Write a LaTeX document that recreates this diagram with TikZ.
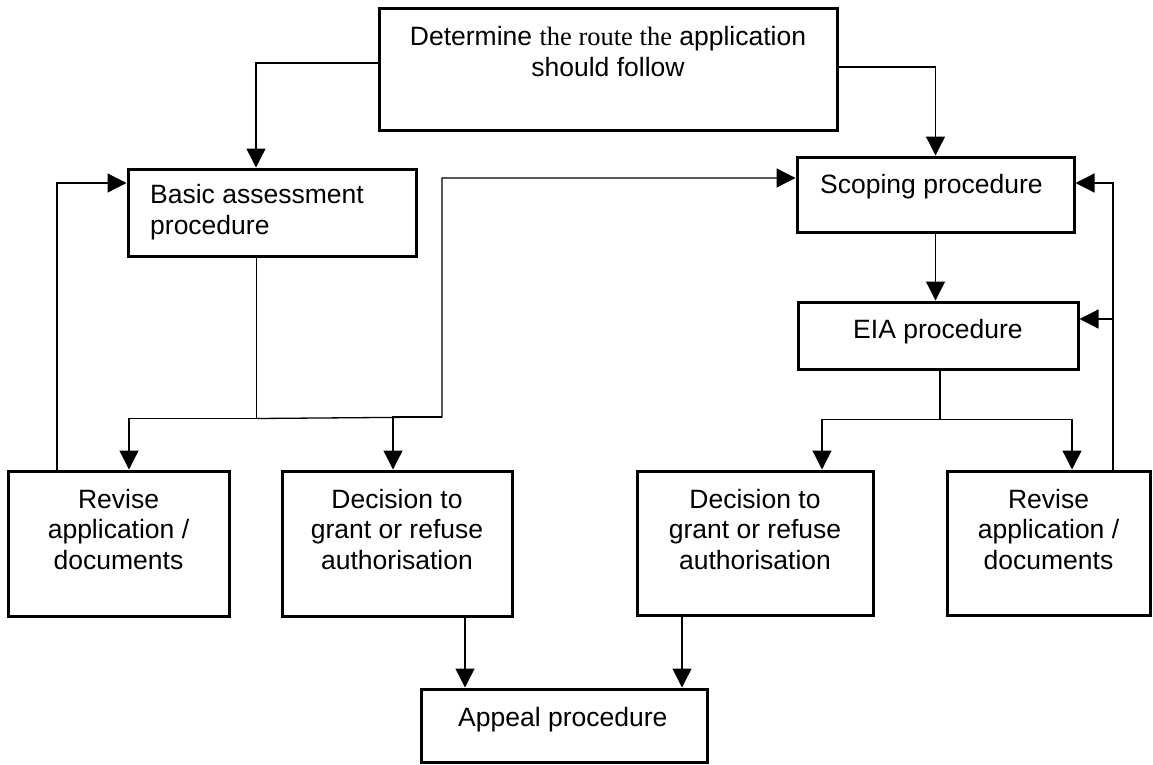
\documentclass[tikz,border=0pt]{standalone}
\usepackage{fontspec}
\setmainfont{Liberation Sans}
\newfontfamily\timesfont{Liberation Serif}
\usetikzlibrary{arrows.meta,fit}
\begin{document}
\begin{tikzpicture}[x=1pt,y=-1pt,
  box/.style={draw, line width=3pt, inner sep=0pt},
  conn/.style={line width=1.3pt, -{Triangle[length=19pt,width=19pt]}},
  plain/.style={line width=1.3pt},
  txt/.style={font=\fontsize{26.5}{30.5}\selectfont, inner sep=0pt}]
\useasboundingbox (0,0) rectangle (1153,764);
% boxes
\node[box, fit={(379,8) (837,130)}] (top) {};
\node[box, fit={(128,169) (416,256)}] (basic) {};
\node[box, fit={(797,157) (1074,232)}] (scoping) {};
\node[box, fit={(798,302) (1078,369)}] (eia) {};
\node[box, fit={(8,471) (229,616)}] (revL) {};
\node[box, fit={(282,471) (512,616)}] (decL) {};
\node[box, fit={(637,471) (873,615)}] (decR) {};
\node[box, fit={(947,471) (1150,615)}] (revR) {};
\node[box, fit={(421,689) (707,762)}] (appeal) {};
% texts (base anchor = baseline of the last line)
\node[txt, anchor=base, align=center] (ttop) at (608,76) {Determine {\timesfont the route the} application\\should follow};
\node[txt, anchor=base west, align=left] (tbasic) at (150,234) {Basic assessment\\procedure};
\node[txt, anchor=base west] (tscoping) at (820,193) {Scoping procedure};
\node[txt, anchor=base west] (teia) at (853,338) {EIA procedure};
\node[txt, anchor=base, align=center] (trevL) at (118.5,569) {Revise\\application /\\documents};
\node[txt, anchor=base, align=center] (tdecL) at (397,569) {Decision to\\grant or refuse\\authorisation};
\node[txt, anchor=base, align=center] (tdecR) at (755,569) {Decision to\\grant or refuse\\authorisation};
\node[txt, anchor=base, align=center] (trevR) at (1048.5,569) {Revise\\application /\\documents};
\node[txt, anchor=base west] (tappeal) at (458,726) {Appeal procedure};
% connectors from top box
\draw[conn] ([yshift=6pt]top.west) -| ([xshift=-16pt]basic.north);
\draw[conn] ([yshift=2pt]top.east) -| (scoping.north);
% left branch
\coordinate (jL) at ([xshift=-15.5pt,yshift=-161pt]basic.south);
\coordinate (jR) at (442,417);
\draw[plain] ([xshift=-15.5pt]basic.south) -- (jL);
\draw[conn] (jL) -| ([xshift=10.5pt]revL.north);
\draw[conn] (jR) -| ([xshift=-4pt]decL.north);
\draw[conn] (jL) -- (jR) |- ([yshift=16.5pt]scoping.west);
\draw[conn] ([xshift=-61.5pt]revL.north) |- ([yshift=29.5pt]basic.west);
% right branch
\draw[conn] (scoping.south) -- (scoping.south |- eia.north);
\coordinate (jE) at ([xshift=2pt,yshift=-49pt]eia.south);
\draw[plain] ([xshift=2pt]eia.south) -- (jE);
\draw[conn] (jE) -| ([xshift=67pt]decR.north);
\draw[conn] (jE) -| ([xshift=23.5pt]revR.north);
\coordinate (fb) at ([xshift=64.5pt]revR.north);
\coordinate (eiaIn) at ([yshift=16.5pt]eia.east);
\draw[conn] (fb) |- ([yshift=11.5pt]scoping.east);
\draw[conn] (fb |- eiaIn) -- (eiaIn);
% to appeal
\coordinate (dl) at ([xshift=68pt]decL.south);
\coordinate (dr) at ([xshift=-73pt]decR.south);
\draw[conn] (dl) -- (dl |- appeal.north);
\draw[conn] (dr) -- (dr |- appeal.north);
\end{tikzpicture}
\end{document}
